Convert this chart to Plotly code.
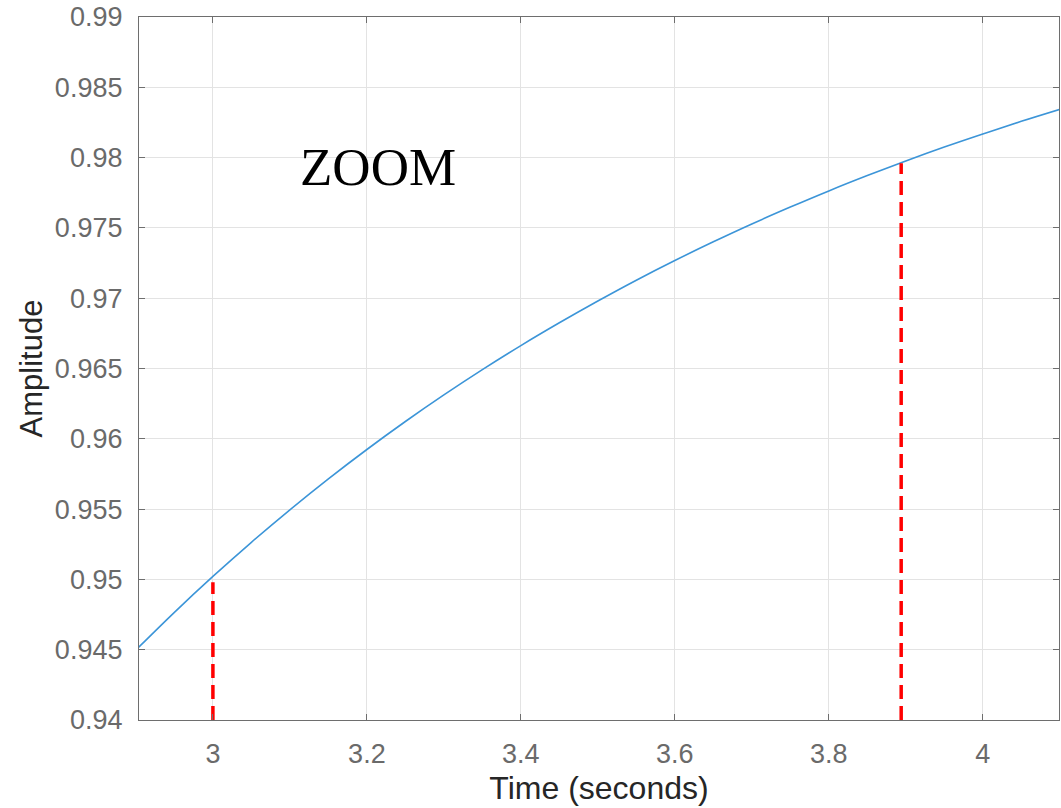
import plotly.graph_objects as go

# Step response samples
time_s = [2.90, 2.95, 3.00, 3.05, 3.10, 3.15, 3.20, 3.25, 3.30, 3.35, 3.40, 3.45,
          3.50, 3.55, 3.60, 3.65, 3.70, 3.75, 3.80, 3.85, 3.90, 3.95, 4.00, 4.05, 4.10]
amplitude = [0.94498, 0.94766, 0.95021, 0.95264, 0.95495, 0.95715, 0.95924, 0.96123,
             0.96312, 0.96492, 0.96663, 0.96825, 0.96980, 0.97128, 0.97268, 0.97401,
             0.97528, 0.97648, 0.97763, 0.97872, 0.97976, 0.98075, 0.98168, 0.98258,
             0.98343]

# Marker (red dashed) lines
marker_t = [3.0, 3.894]
marker_top = [0.9498, 0.9796]
y_bottom = 0.94

x_ticks = [3, 3.2, 3.4, 3.6, 3.8, 4]
x_tick_text = ["3", "3.2", "3.4", "3.6", "3.8", "4"]
y_ticks = [0.94, 0.945, 0.95, 0.955, 0.96, 0.965, 0.97, 0.975, 0.98, 0.985, 0.99]
y_tick_text = ["0.94", "0.945", "0.95", "0.955", "0.96", "0.965", "0.97", "0.975", "0.98", "0.985", "0.99"]

fig = go.Figure()
fig.add_trace(go.Scatter(x=time_s, y=amplitude, mode="lines",
                         line=dict(color="#3c95d8", width=1.6, shape="spline", smoothing=1.0),
                         showlegend=False, hoverinfo="skip"))
for t, top in zip(marker_t, marker_top):
    fig.add_trace(go.Scatter(x=[t, t], y=[y_bottom, top], mode="lines",
                             line=dict(color="#ff0000", width=3.5, dash="14px,7px"),
                             showlegend=False, hoverinfo="skip"))

fig.add_annotation(x=3.2144, y=0.97934, text="ZOOM", showarrow=False,
                   font=dict(family="Liberation Serif", size=53, color="black"),
                   xanchor="center", yanchor="middle")

axis_common = dict(showline=True, linecolor="#6e6e6e", linewidth=1.3, mirror="ticks",
                   ticks="inside", ticklen=6, tickcolor="#6e6e6e", tickwidth=1.3,
                   showgrid=True, gridcolor="#e3e3e3", gridwidth=1, zeroline=False,
                   tickfont=dict(family="Liberation Sans", size=27, color="#6a6a6a"))

fig.update_xaxes(range=[2.904, 4.099], tickvals=x_ticks, ticktext=x_tick_text,
                 title=dict(text="Time (seconds)", standoff=9,
                            font=dict(family="Liberation Sans", size=32, color="#262626")),
                 ticklabelstandoff=9, **axis_common)
fig.update_yaxes(range=[0.94, 0.99], tickvals=y_ticks, ticktext=y_tick_text,
                 title=dict(text="Amplitude", standoff=3,
                            font=dict(family="Liberation Sans", size=31, color="#262626")),
                 ticklabelstandoff=10, **axis_common)

fig.update_layout(width=1061, height=808, autosize=False,
                  margin=dict(l=139, r=2, t=17, b=88),
                  paper_bgcolor="white", plot_bgcolor="white")

fig.write_html("out.html")
